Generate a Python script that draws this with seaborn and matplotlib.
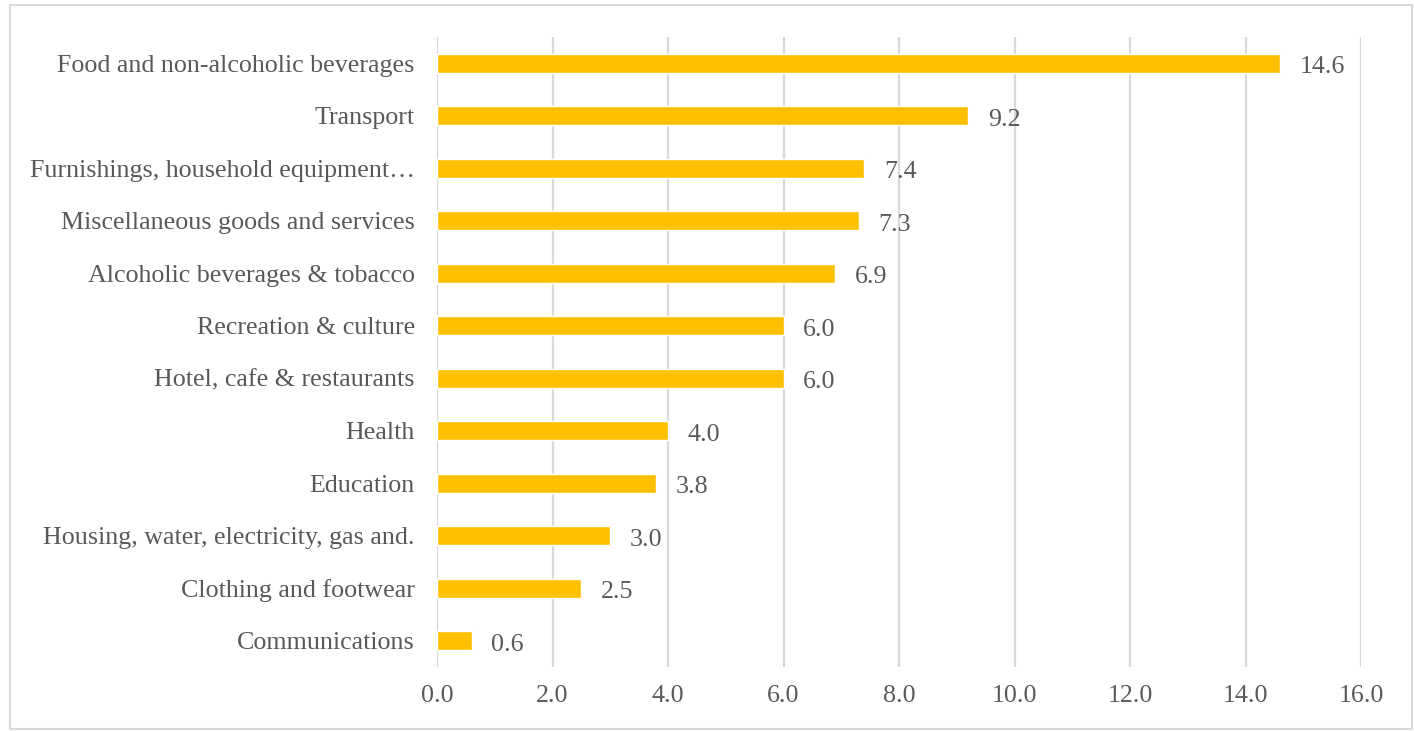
import pandas as pd
import matplotlib.pyplot as plt
import matplotlib.patches as mpatches
import seaborn as sns

# Categories and values
categories = ["Food and non-alcoholic beverages", "Transport",
              "Furnishings, household equipment\u2026",
              "Miscellaneous goods and services",
              "Alcoholic beverages & tobacco", "Recreation & culture",
              "Hotel, cafe & restaurants", "Health", "Education",
              "Housing, water, electricity, gas and.",
              "Clothing and footwear", "Communications"]
values = [14.6, 9.2, 7.4, 7.3, 6.9, 6.0, 6.0, 4.0, 3.8, 3.0, 2.5, 0.6]
x_ticks = [0, 2, 4, 6, 8, 10, 12, 14, 16]

df = pd.DataFrame({"category": categories, "value": values})

sns.set_style("white")
plt.rcParams['font.family'] = ['Liberation Serif', 'DejaVu Serif']
text_grey = "#595959"
fsize = 18.7

fig = plt.figure(figsize=(14.14, 7.31), dpi=100)
ax = fig.add_axes([437 / 1414, 1 - 667 / 731, 924 / 1414, 630 / 731])
ax.set_axisbelow(True)

sns.barplot(data=df, x="value", y="category", color="#FFC000",
            saturation=1, width=0.37, ax=ax, zorder=3)

#Value labels to the right of each bar
for i, v in enumerate(values):
    ax.annotate(f"{v:.1f}", xy=(v, i), xytext=(14, -3),
                textcoords="offset points", ha="left", va="center",
                fontsize=fsize, color=text_grey)

ax.set_xlim(0, 16)
ax.set_ylim(11.5, -0.5)
ax.set_xticks(x_ticks)
ax.set_xticklabels([f"{t:.1f}" for t in x_ticks])
ax.set_xlabel("")
ax.set_ylabel("")
ax.xaxis.grid(True, color="#D9D9D9", linewidth=1.6, zorder=0)
ax.yaxis.grid(False)
for s in ax.spines.values():
    s.set_visible(False)
ax.tick_params(axis="x", length=0, pad=13, labelsize=fsize, labelcolor=text_grey)
ax.tick_params(axis="y", length=0, pad=16, labelsize=fsize, labelcolor=text_grey)

# light border around the whole chart
fig.patches.append(mpatches.Rectangle((10 / 1414, 2 / 731), 1402 / 1414, 724 / 731,
                                      transform=fig.transFigure, fill=False,
                                      edgecolor="#D9D9D9", linewidth=1.5))

fig.savefig("out.png", dpi=100)
